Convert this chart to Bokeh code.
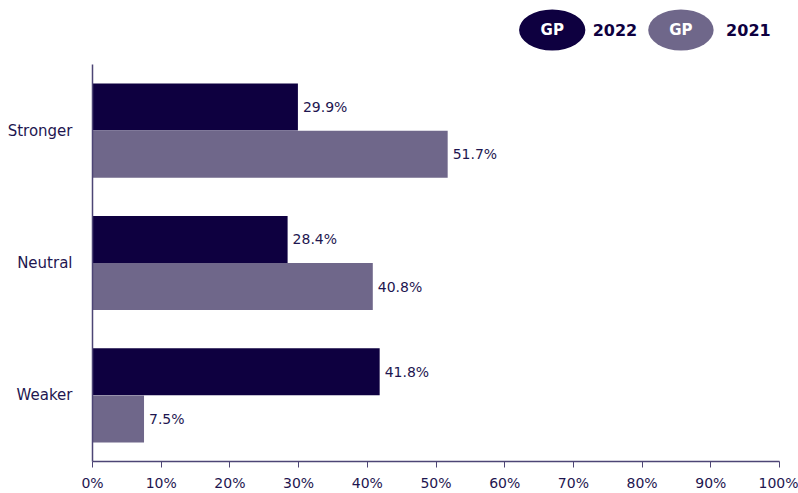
from bokeh.plotting import figure
from bokeh.layouts import column
from bokeh.models import ColumnDataSource, FactorRange, Range1d, FixedTicker, PrintfTickFormatter, LabelSet
from bokeh.transform import dodge
from bokeh.core.properties import value
from bokeh.embed import file_html
from bokeh.resources import INLINE

categories = ["Weaker", "Neutral", "Stronger"]
values_2022 = [41.8, 28.4, 29.9]
values_2021 = [7.5, 40.8, 51.7]
series_names = ["2022", "2021"]
legend_badge = "GP"
x_ticks = [0, 10, 20, 30, 40, 50, 60, 70, 80, 90, 100]

DARK = "#0e0040"
LIGHT = "#6f678a"
TEXT = "#1e1650"
AXIS = "#4d4575"
FONT = "DejaVu Sans"

src = ColumnDataSource(dict(
    cat=categories,
    v22=values_2022,
    v21=values_2021,
    l22=[f"{v:.1f}%" for v in values_2022],
    l21=[f"{v:.1f}%" for v in values_2021],
))

W = 798
LH = 56
# Legend figure
leg = figure(width=W, height=LH, output_backend="svg", toolbar_location=None,
             x_range=Range1d(0, W), y_range=Range1d(0, LH),
             x_axis_location=None, y_axis_location=None, min_border=0)
leg.outline_line_color = None
leg.grid.visible = False
cy = LH - 29.5
leg.ellipse(x=[534], y=[cy], width=77, height=41, fill_color=DARK, line_color=None)
leg.ellipse(x=[683.5], y=[cy], width=76, height=41, fill_color=LIGHT, line_color=None)
leg.text(x=[534, 683.5], y=[cy, cy], text=[legend_badge, legend_badge],
         text_align="center", text_baseline="middle", text_color="white",
         text_font=value(FONT), text_font_style="bold", text_font_size="15px")
leg.text(x=[581, 736], y=[cy, cy], text=series_names,
         text_align="left", text_baseline="middle", text_color=DARK,
         text_font=value(FONT), text_font_style="bold", text_font_size="16px")

# Main figure
p = figure(width=W, height=493 - LH, output_backend="svg", toolbar_location=None,
           x_range=Range1d(0, 100), y_range=FactorRange(factors=categories, range_padding=0),
           min_border_left=92, min_border_right=19, min_border_top=8, min_border_bottom=31)
p.outline_line_color = None
p.grid.visible = False

h = 0.355
off = 0.178
p.hbar(y=dodge("cat", off, range=p.y_range), right="v22", left=0, height=h,
       source=src, fill_color=DARK, line_color=None)
p.hbar(y=dodge("cat", -off, range=p.y_range), right="v21", left=0, height=h,
       source=src, fill_color=LIGHT, line_color=None)

for col, lab, o in (("v22", "l22", off), ("v21", "l21", -off)):
    p.add_layout(LabelSet(x=col, y=dodge("cat", o, range=p.y_range), text=lab, source=src,
                          x_offset=5, text_baseline="middle", text_align="left",
                          text_color=TEXT, text_font=value(FONT), text_font_size="14px"))

p.xaxis.ticker = FixedTicker(ticks=x_ticks)
p.xaxis.formatter = PrintfTickFormatter(format="%d%%")
p.xaxis.minor_tick_line_color = None
p.xaxis.major_tick_out = 6
p.xaxis.major_tick_in = 0
p.xaxis.major_tick_line_color = AXIS
p.xaxis.axis_line_color = AXIS
p.xaxis.major_label_standoff = 7
p.yaxis.major_tick_line_color = None
p.yaxis.minor_tick_line_color = None
p.yaxis.axis_line_color = AXIS
p.yaxis.major_label_standoff = 14
for ax in (p.xaxis, p.yaxis):
    ax.major_label_text_color = TEXT
    ax.major_label_text_font = FONT
    ax.major_label_text_font_size = "14px"
    ax.axis_line_width = 1.5
p.yaxis.major_label_text_font_size = "15px"

layout = column(leg, p, spacing=0)
open("out.html", "w").write(file_html(layout, INLINE))
